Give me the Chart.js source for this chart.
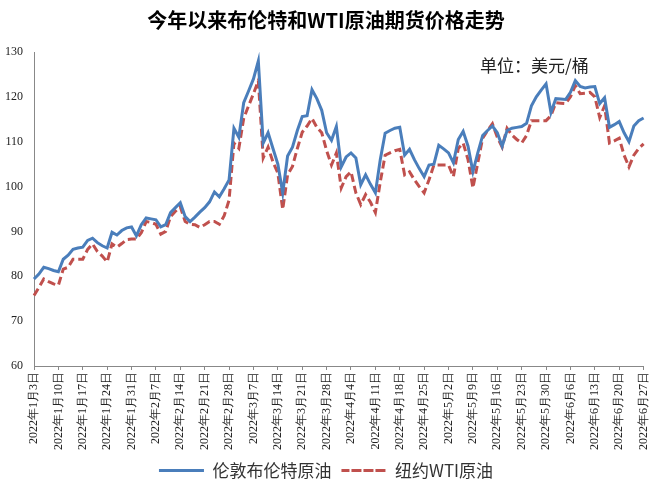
<!DOCTYPE html>
<html><head><meta charset="utf-8">
<script src="https://cdn.jsdelivr.net/npm/chart.js@4/dist/chart.umd.min.js"></script>
<style>html,body{margin:0;padding:0;background:#fff}#w{width:660px;height:491px}</style>
</head><body><div id="w"><canvas id="c"></canvas></div>
<script>
const title = "今年以来布伦特和WTI原油期货价格走势";
const unitText = "单位：美元/桶";
const seriesNames = ["伦敦布伦特原油", "纽约WTI原油"];
const yTicks = [60,70,80,90,100,110,120,130];
// trading days Jan 3 – Jun 27, 2022 (weekdays)
const days = [];
(function(){let d=new Date(Date.UTC(2022,0,3));const end=new Date(Date.UTC(2022,5,27));
while(d<=end){const w=d.getUTCDay();if(w>0&&w<6)days.push(new Date(d));d=new Date(d.getTime()+86400000);}})();
const categories = days.map(d=>d.getUTCDay()===1?`2022年${d.getUTCMonth()+1}月${d.getUTCDate()}日`:"");
const brent = [79.4,80.5,82,81.7,81.3,81,83.8,84.7,86,86.3,86.5,88,88.5,87.5,86.8,86.3,89.8,89.2,90.2,90.8,
91,89,91.5,93,92.8,92.6,91,91.5,94.2,95.3,96.4,93.3,92.2,93.2,94.3,95.3,96.6,98.8,97.7,99.5,
101.5,113,111,118.7,121.3,124,128,109.7,112,108.5,105,98.6,106.8,108.8,112.5,115.6,115.8,121.6,119.6,117,
112,110.3,113.4,104.4,106.6,107.5,106.4,100.4,102.6,100.5,98.6,106,111.9,112.5,113,113.2,107,108.3,106,104,
102.2,104.8,105,109.2,108.4,107.5,105.3,110.5,112.3,109,103.3,107.5,111.4,112.5,113.5,112,109,112.5,113,113.2,
113.4,114.1,118,120,121.5,122.9,116.5,119.6,119.5,119.4,121,123.6,122.3,122,122.2,122.3,118.5,119.8,113.2,113.8,
114.5,112,110,113.5,114.7,115.3];
const wti = [75.7,77.5,79.4,78.8,78.3,78,81.6,82,83.8,83.8,83.8,86,87.2,85.5,84.5,83.2,87.2,86.5,87.3,88.2,
88.3,88.3,89.7,92.2,92,91.6,89.4,90,93.3,94.5,95.5,92.2,91.6,91.5,90.9,91.5,92.2,92.2,91.6,93.5,
97,109.7,108.5,115.2,118,120.7,123.6,106.4,108.8,105.5,103,94.9,102.6,104.5,108.5,112.1,113.5,115.2,113.2,112,
108,104.8,107.5,99.7,102.2,103.3,98.6,96,98.2,96.5,94.2,101,107,107.5,108,108.3,102.6,103.3,101.5,100,
98.6,101.5,104.8,104.8,104.8,104.8,102.2,108.5,109.7,106,99.7,105.3,110.8,112.5,114,111,108.8,113,111.5,110.5,
109.7,111.4,114.7,114.7,114.7,114.7,115.8,118.7,118.6,118.5,120,122.5,120.7,120.8,121,120,115.4,118,109.7,110.2,
110.8,107,104.4,107,108.5,109.5];

const unitPlugin={id:'unit',afterDraw(ch){const c=ch.ctx;c.save();
c.font='17px "Noto Sans CJK SC"';c.fillStyle='#222';c.textAlign='left';c.textBaseline='middle';
c.fillText(unitText,480,66);c.restore();}};

new Chart(document.getElementById('c'),{
 type:'line',
 data:{labels:categories,datasets:[
  {label:seriesNames[0],data:brent,borderColor:'#4a7ebb',backgroundColor:'#4a7ebb',borderWidth:3,pointRadius:0,tension:0},
  {label:seriesNames[1],data:wti,borderColor:'#c0504d',backgroundColor:'#c0504d',borderWidth:3,borderDash:[8,4],pointRadius:0,tension:0}]},
 options:{responsive:true,maintainAspectRatio:false,animation:false,
  layout:{padding:{left:2,right:10,top:6,bottom:2}},
  plugins:{
   title:{display:true,text:title,color:'#000',font:{family:'"Noto Sans CJK SC"',size:20,weight:'bold'},padding:{top:2,bottom:20}},
   legend:{position:'bottom',labels:{color:'#333',font:{family:'"Noto Sans CJK SC"',size:17},boxWidth:45,boxHeight:0,padding:10,
     generateLabels(ch){return ch.data.datasets.map((d,i)=>({text:d.label,strokeStyle:d.borderColor,fillStyle:d.borderColor,lineWidth:3,lineDash:d.borderDash||[],datasetIndex:i,fontColor:'#333'}));}}},
   tooltip:{enabled:false}},
  scales:{
   x:{offset:false,grid:{display:true,drawOnChartArea:false,color:'#888',tickLength:4},border:{color:'#888'},
      ticks:{autoSkip:false,maxRotation:90,minRotation:90,color:'#222',font:{family:'"Liberation Serif"',size:12},padding:2,
        callback(v){return categories[v];}},
      afterBuildTicks(ax){ax.ticks=ax.ticks.filter(t=>categories[t.value]!=="");}},
   y:{min:60,max:130,grid:{display:false},border:{color:'#888'},
      afterBuildTicks(ax){ax.ticks=yTicks.map(v=>({value:v}));},
      ticks:{color:'#222',font:{family:'"Liberation Serif"',size:12}}}}},
 plugins:[unitPlugin]});
</script></body></html>
